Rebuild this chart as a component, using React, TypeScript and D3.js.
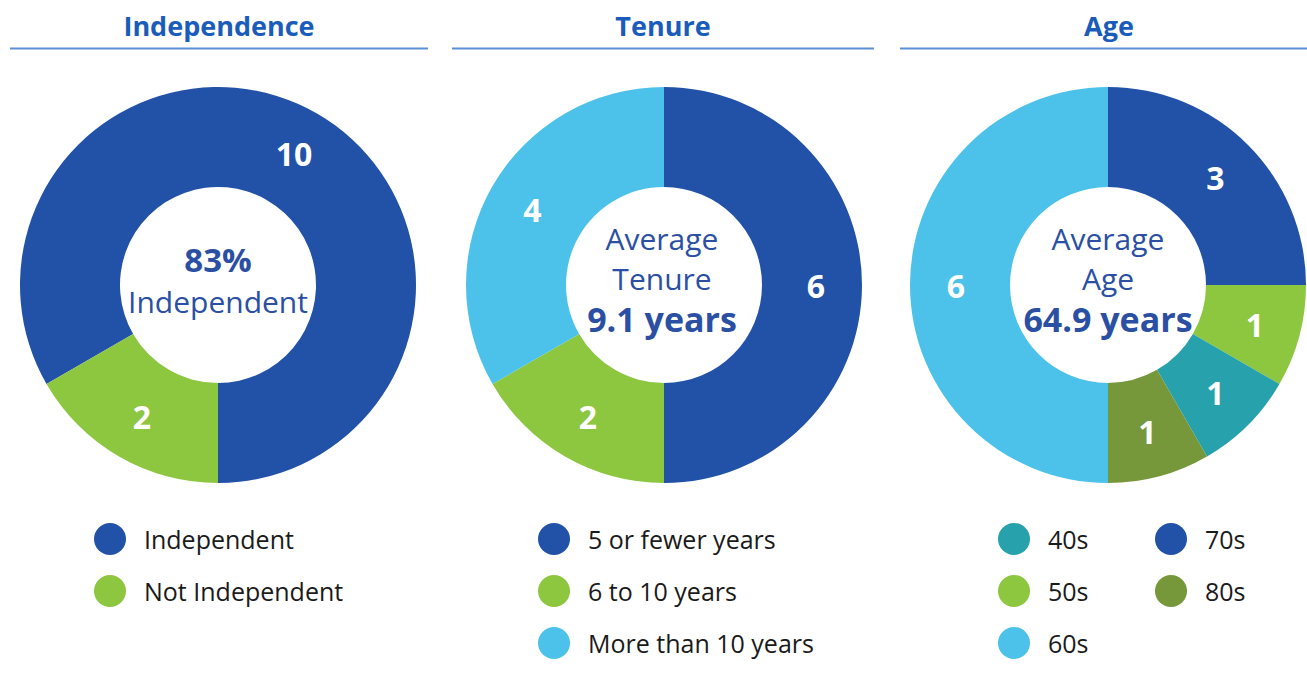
import React from "react";
import * as d3 from "d3";

const indepCategories = ["Independent", "Not Independent"];
const indepValues = [10, 2];
const tenureCategories = ["5 or fewer years", "6 to 10 years", "More than 10 years"];
const tenureValues = [6, 2, 4];
const ageCategories = ["70s", "50s", "40s", "80s", "60s"];
const ageValues = [3, 1, 1, 1, 6];
const ageLegendOrder = ["40s", "50s", "60s", "70s", "80s"];

const COLORS: Record<string, string> = {
  "Independent": "#2152a8",
  "Not Independent": "#8dc63f",
  "5 or fewer years": "#2152a8",
  "6 to 10 years": "#8dc63f",
  "More than 10 years": "#4cc2ea",
  "40s": "#27a1ab",
  "50s": "#8dc63f",
  "60s": "#4cc2ea",
  "70s": "#2152a8",
  "80s": "#76983a",
};

const FONT = "'Open Sans', 'Noto Sans', sans-serif";
const TEXT_BLUE = "#2a4fa3";

type DonutProps = {
  cx: number;
  cy: number;
  cats: string[];
  vals: number[];
  start: number;
};

function Donut({ cx, cy, cats, vals, start }: DonutProps) {
  const outer = 198;
  const inner = 98;
  const data = cats.map((c, i) => ({ c, v: vals[i] }));
  const pie = d3
    .pie<{ c: string; v: number }>()
    .value((d) => d.v)
    .sort(null)
    .startAngle(start)
    .endAngle(start + 2 * Math.PI);
  const arc = d3.arc<d3.PieArcDatum<{ c: string; v: number }>>().innerRadius(inner).outerRadius(outer);
  const labelArc = d3
    .arc<d3.PieArcDatum<{ c: string; v: number }>>()
    .innerRadius(152)
    .outerRadius(152);
  const arcs = pie(data);
  return (
    <g transform={`translate(${cx},${cy})`}>
      {arcs.map((a, i) => (
        <path key={i} d={arc(a) || ""} fill={COLORS[a.data.c]} />
      ))}
      {arcs.map((a, i) => {
        const [x, y] = labelArc.centroid(a);
        return (
          <text
            key={"l" + i}
            x={x}
            y={y}
            textAnchor="middle"
            dominantBaseline="central"
            fill="#ffffff"
            fontFamily={FONT}
            fontWeight={700}
            fontSize={32}
          >
            {a.data.v}
          </text>
        );
      })}
    </g>
  );
}

function Title({ x, x1, x2, label }: { x: number; x1: number; x2: number; label: string }) {
  return (
    <g>
      <text x={x} y={36} textAnchor="middle" fill="#1a5cba" fontFamily={FONT} fontWeight={700} fontSize={27}>
        {label}
      </text>
      <line x1={x1} x2={x2} y1={48.5} y2={48.5} stroke="#5b8fd6" strokeWidth={2} />
    </g>
  );
}

function LegendItem({ x, y, label }: { x: number; y: number; label: string }) {
  return (
    <g>
      <circle cx={x} cy={y} r={16} fill={COLORS[label]} />
      <text x={x + 34} y={y} dominantBaseline="central" fill="#1a1a1a" fontFamily={FONT} fontSize={25}>
        {label}
      </text>
    </g>
  );
}

export default function App() {
  const cy = 285;
  const rowY = [539, 591, 643];
  return (
    <svg width={1307} height={681} style={{ position: "absolute", left: 0, top: 0, background: "#fff" }}>
      <rect width={1307} height={681} fill="#fff" />
      <Title x={219} x1={10} x2={428} label="Independence" />
      <Title x={663} x1={452} x2={874} label="Tenure" />
      <Title x={1109} x1={900} x2={1307} label="Age" />

      <Donut cx={218} cy={cy} cats={indepCategories} vals={indepValues} start={(4 * Math.PI) / 3} />
      <Donut cx={664} cy={cy} cats={tenureCategories} vals={tenureValues} start={0} />
      <Donut cx={1108} cy={cy} cats={ageCategories} vals={ageValues} start={0} />

      <g fontFamily={FONT} fill={TEXT_BLUE} textAnchor="middle">
        <text x={218} y={272} fontWeight={700} fontSize={33}>83%</text>
        <text x={218} y={313} fontSize={30}>Independent</text>

        <text x={662} y={250} fontSize={30}>Average</text>
        <text x={662} y={290} fontSize={30}>Tenure</text>
        <text x={662} y={332} fontWeight={700} fontSize={34}>9.1 years</text>

        <text x={1108} y={250} fontSize={30}>Average</text>
        <text x={1108} y={290} fontSize={30}>Age</text>
        <text x={1108} y={332} fontWeight={700} fontSize={34}>64.9 years</text>
      </g>

      {indepCategories.map((c, i) => (
        <LegendItem key={c} x={110} y={rowY[i]} label={c} />
      ))}
      {tenureCategories.map((c, i) => (
        <LegendItem key={c} x={554} y={rowY[i]} label={c} />
      ))}
      {ageLegendOrder.map((c, i) => (
        <LegendItem key={c} x={i < 3 ? 1014 : 1171} y={rowY[i < 3 ? i : i - 3]} label={c} />
      ))}
    </svg>
  );
}
